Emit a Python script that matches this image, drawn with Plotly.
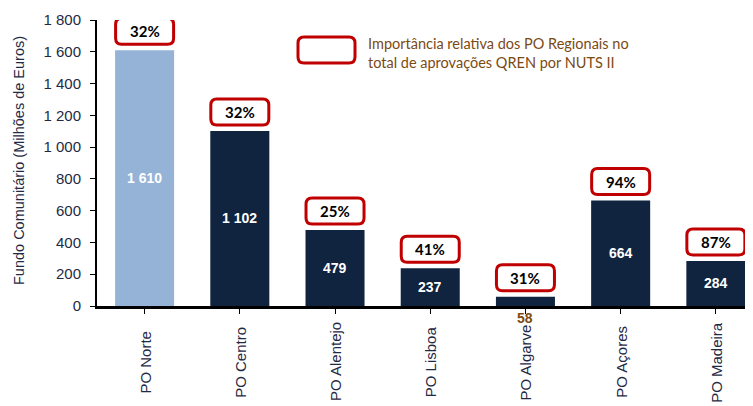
import plotly.graph_objects as go

categories = ["PO Norte", "PO Centro", "PO Alentejo", "PO Lisboa", "PO Algarve", "PO Açores", "PO Madeira"]
values = [1610, 1102, 479, 237, 58, 664, 284]
value_labels = ["1 610", "1 102", "479", "237", "58", "664", "284"]
shares = ["32%", "32%", "25%", "41%", "31%", "94%", "87%"]
bar_colors = ["#95B3D7", "#10243F", "#10243F", "#10243F", "#10243F", "#10243F", "#10243F"]
y_ticks = [0, 200, 400, 600, 800, 1000, 1200, 1400, 1600, 1800]

OFF = 8  # default page body margin
W, H = 753 - OFF, 406 - OFF
L, R, T, B = 97 - OFF, 0, 20 - OFF, 100
PW, PH = W - L - R, H - T - B
x = list(range(len(categories)))

fig = go.Figure()
fig.add_trace(go.Bar(
    x=x, y=values, marker=dict(color=bar_colors, line=dict(width=0)),
    width=0.62, hoverinfo="skip", showlegend=False,
))

def rounded(x0, y0, x1, y1, r):
    return (f"M {x0+r},{y0} L {x1-r},{y0} Q {x1},{y0} {x1},{y0+r} "
            f"L {x1},{y1-r} Q {x1},{y1} {x1-r},{y1} L {x0+r},{y1} "
            f"Q {x0},{y1} {x0},{y1-r} L {x0},{y0+r} Q {x0},{y0} {x0+r},{y0} Z")

def px(xp):  # page pixel -> paper x
    return (xp - OFF - L) / PW

def py(yp):  # page pixel -> paper y
    return (H - B - (yp - OFF)) / PH

shapes = []
annotations = []
red = "#C00000"
for i, (v, lab, s) in enumerate(zip(values, value_labels, shares)):
    shapes.append(dict(type="path", xref="x", yref="y", xsizemode="pixel", ysizemode="pixel",
                       xanchor=i, yanchor=v, path=rounded(-29, 6, 29, 32, 6),
                       line=dict(color=red, width=3), fillcolor="white", layer="above"))
    annotations.append(dict(x=i, y=v, xref="x", yref="y", text=f"<b>{s}</b>", showarrow=False,
                            yshift=19, font=dict(family="Lato", size=15, color="#000000")))
    if v >= 150:
        annotations.append(dict(x=i, y=v / 2, xref="x", yref="y", text=f"<b>{lab}</b>", showarrow=False,
                                font=dict(family="Liberation Sans", size=14, color="white")))
    else:
        annotations.append(dict(x=i, y=0, xref="x", yref="y", text=f"<b>{lab}</b>", showarrow=False,
                                yshift=-12, font=dict(family="Liberation Sans", size=14, color="#7F4A0F")))
    annotations.append(dict(x=i, y=py(362), xref="x", yref="paper", text=categories[i],
                            textangle=-90, showarrow=False, xanchor="center", yanchor="middle",
                            font=dict(family="Liberation Sans Narrow, Liberation Sans", size=15,
                                      color="#1F2A44")))

# legend box and text
shapes.append(dict(type="path", xref="paper", yref="paper", xsizemode="pixel", ysizemode="pixel",
                   xanchor=px(298), yanchor=py(63), path=rounded(0, 0, 57, 26, 6),
                   line=dict(color=red, width=3), fillcolor="white", layer="above"))
annotations.append(dict(x=px(366), y=py(53), xref="paper", yref="paper", xanchor="left", yanchor="middle",
                        align="left", showarrow=False,
                        text="Importância relativa dos PO Regionais no<br>total de aprovações QREN por NUTS II",
                        font=dict(family="Lato", size=14.5, color="#7B4A14")))
# y-axis title
annotations.append(dict(x=px(19), y=py(161), xref="paper", yref="paper", xanchor="center", yanchor="middle",
                        textangle=-90, showarrow=False, text="Fundo Comunitário (Milhões de Euros)",
                        font=dict(family="Liberation Sans", size=14.5, color="#1F2A44")))
# source note (mostly cut off at the bottom)
annotations.append(dict(x=px(17), y=py(403), xref="paper", yref="paper", xanchor="left", yanchor="top",
                        showarrow=False, text="Dados a 30-Set-2013",
                        font=dict(family="Liberation Sans", size=14, color="#1F2A44")))

fig.update_layout(
    width=W, height=H, margin=dict(l=L, r=R, t=T, b=B),
    paper_bgcolor="white", plot_bgcolor="white",
    separators=", ",
    bargap=0.38,
    xaxis=dict(range=[-0.5, 6.39], tickmode="array", tickvals=x, ticktext=[""] * len(x),
               showticklabels=False, tickson="boundaries", ticks="outside", ticklen=5,
               tickcolor="#000000", showline=True, linecolor="#000000", linewidth=2.5,
               showgrid=False, zeroline=False),
    yaxis=dict(range=[0, 1800], tickvals=y_ticks, tickformat=",d", ticks="outside", ticklen=5,
               tickcolor="#000000", showline=True, linecolor="#000000", linewidth=2,
               showgrid=False, zeroline=False, ticklabelstandoff=6,
               tickfont=dict(family="Liberation Sans", size=15, color="#1F2A44")),
    shapes=shapes, annotations=annotations,
)

fig.write_html("out.html")
